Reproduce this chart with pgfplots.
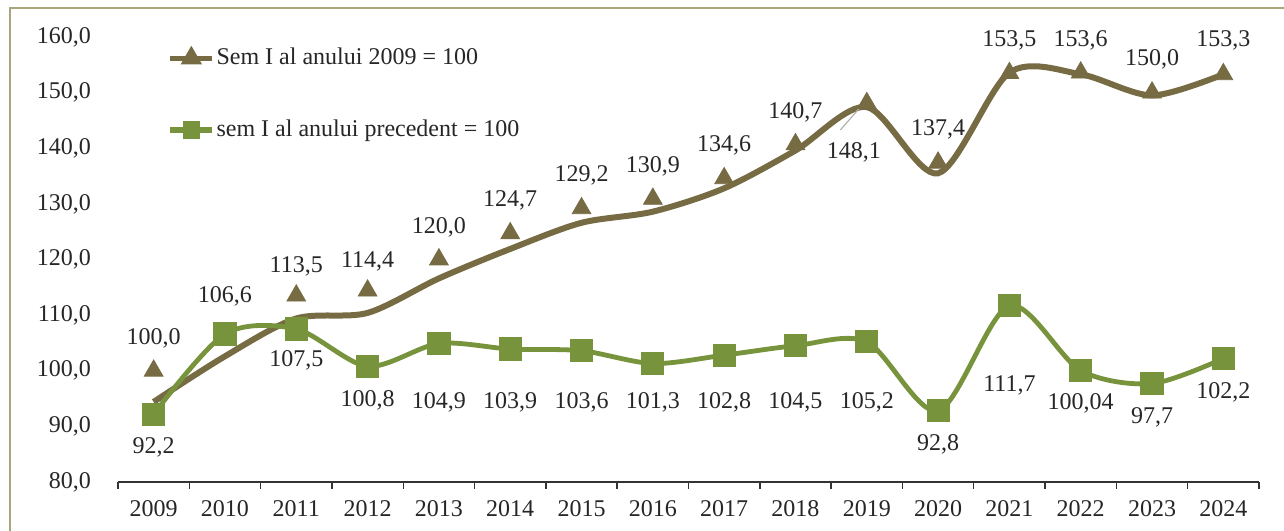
\documentclass[border=0pt]{standalone}
\usepackage{pgfplots}
\pgfplotsset{compat=1.18}
\usepackage{fontspec}
\setmainfont{Liberation Serif}
\definecolor{semBrown}{HTML}{776B43}
\definecolor{semGreen}{HTML}{77933C}
\definecolor{frameTan}{HTML}{ABA57C}
\definecolor{txt}{HTML}{262626}
\newcommand{\lbl}{\fontsize{12}{14}\selectfont}
\begin{document}
\begin{tikzpicture}
  \useasboundingbox (0,0) rectangle (642pt,265pt);
  \draw[frameTan, line width=1.1pt] (5pt,-20pt) rectangle (680pt,261pt);
  \begin{axis}[
    at={(59pt,24pt)}, anchor=south west,
    scale only axis,
    width=570.5pt, height=222.5pt,
    xmin=-0.5, xmax=15.5,
    ymin=80, ymax=160,
    axis x line*=bottom, axis y line*=left,
    x axis line style={draw=black!80, line width=0.7pt},
    y axis line style={draw=none},
    ytick={80,90,...,160},
    ytick style={draw=none},
    xtick={0,...,15},
    xticklabels={2009,2010,2011,2012,2013,2014,2015,2016,2017,2018,2019,2020,2021,2022,2023,2024},
    minor xtick={-0.5,0.5,...,15.5},
    xtick align=outside,
    major tick length=0pt,
    minor tick length=3.5pt,
    minor tick style={draw=black!80, line width=0.7pt},
    tick label style={font=\lbl, text=txt},
    xticklabel style={yshift=-5.5pt},
    yticklabel style={xshift=-10pt,
      /pgf/number format/.cd, fixed, fixed zerofill, precision=1, use comma, assume math mode=true},
    clip=false,
    legend style={draw=none, fill=none, font=\lbl, text=txt,
      at={(0.038,0.988)}, anchor=north west, row sep=24.5pt,
      nodes={inner sep=0.8pt}},
    legend cell align={left},
    legend image code/.code={
      \draw[mark repeat=2, mark phase=2, #1] plot coordinates {(0pt,0pt) (10.5pt,0pt) (21pt,0pt)};
    },
  ]
    % brown line (drawn as Excel put it, offset from the markers)
    \addplot[semBrown, line width=3pt, smooth, forget plot] coordinates {
      (0,94.4) (1,102.6) (2,109.4) (3,110.4) (4,116.6) (5,121.9) (6,126.6) (7,128.6)
      (8,132.8) (9,139.6) (10,147.4) (11,135.5) (12,153.6) (13,153.3) (14,149.5) (15,153.3)
    };
    % brown markers
    \addplot[only marks, mark=triangle*, mark size=5.4pt, semBrown, forget plot] coordinates {
      (0,100.0) (1,106.6) (2,113.5) (3,114.4) (4,120.0) (5,124.7) (6,129.2) (7,130.9)
      (8,134.6) (9,140.7) (10,148.1) (11,137.4) (12,153.5) (13,153.6) (14,150.0) (15,153.3)
    };
    % green series
    \addplot[semGreen, line width=2.4pt, smooth, mark=square*, mark size=4.6pt,
      mark options={solid}, forget plot] coordinates {
      (0,92.2) (1,106.6) (2,107.5) (3,100.8) (4,104.9) (5,103.9) (6,103.6) (7,101.3)
      (8,102.8) (9,104.5) (10,105.2) (11,92.8) (12,111.7) (13,100.04) (14,97.7) (15,102.2)
    };
    \addlegendimage{semBrown, line width=2.6pt, mark=triangle*, mark size=3.6pt}
    \addlegendentry{Sem I al anului 2009 = 100}
    \addlegendimage{semGreen, line width=2.6pt, mark=square*, mark size=3pt}
    \addlegendentry{sem I al anului precedent = 100}

    % leader line for 148,1
    \draw[black!30, line width=0.6pt] (axis cs:9.63,143.3) -- (axis cs:10,148.7);

    \begin{scope}[every node/.style={font=\lbl, text=txt}]
      % brown labels
      \node at (axis cs:0,105.9) {100,0};
      \node at (axis cs:2,118.8) {113,5};
      \node at (axis cs:3,119.6) {114,4};
      \node at (axis cs:4,125.7) {120,0};
      \node at (axis cs:5,130.7) {124,7};
      \node at (axis cs:6,135.2) {129,2};
      \node at (axis cs:7,136.8) {130,9};
      \node at (axis cs:8,140.6) {134,6};
      \node at (axis cs:9,146.5) {140,7};
      \node at (axis cs:9.82,139.3) {148,1};
      \node at (axis cs:11,143.3) {137,4};
      \node at (axis cs:12,159.3) {153,5};
      \node at (axis cs:13,159.3) {153,6};
      \node at (axis cs:14,156.0) {150,0};
      \node at (axis cs:15,159.3) {153,3};
      % green labels
      \node at (axis cs:0,86.3) {92,2};
      \node at (axis cs:1,113.3) {106,6};
      \node at (axis cs:2,101.9) {107,5};
      \node at (axis cs:3,94.7) {100,8};
      \node at (axis cs:4,94.4) {104,9};
      \node at (axis cs:5,94.3) {103,9};
      \node at (axis cs:6,94.3) {103,6};
      \node at (axis cs:7,94.3) {101,3};
      \node at (axis cs:8,94.3) {102,8};
      \node at (axis cs:9,94.4) {104,5};
      \node at (axis cs:10,94.4) {105,2};
      \node at (axis cs:11,86.7) {92,8};
      \node at (axis cs:12,97.4) {111,7};
      \node at (axis cs:13,94.2) {100,04};
      \node at (axis cs:14,91.7) {97,7};
      \node at (axis cs:15,96.2) {102,2};
    \end{scope}
  \end{axis}
\end{tikzpicture}
\end{document}
